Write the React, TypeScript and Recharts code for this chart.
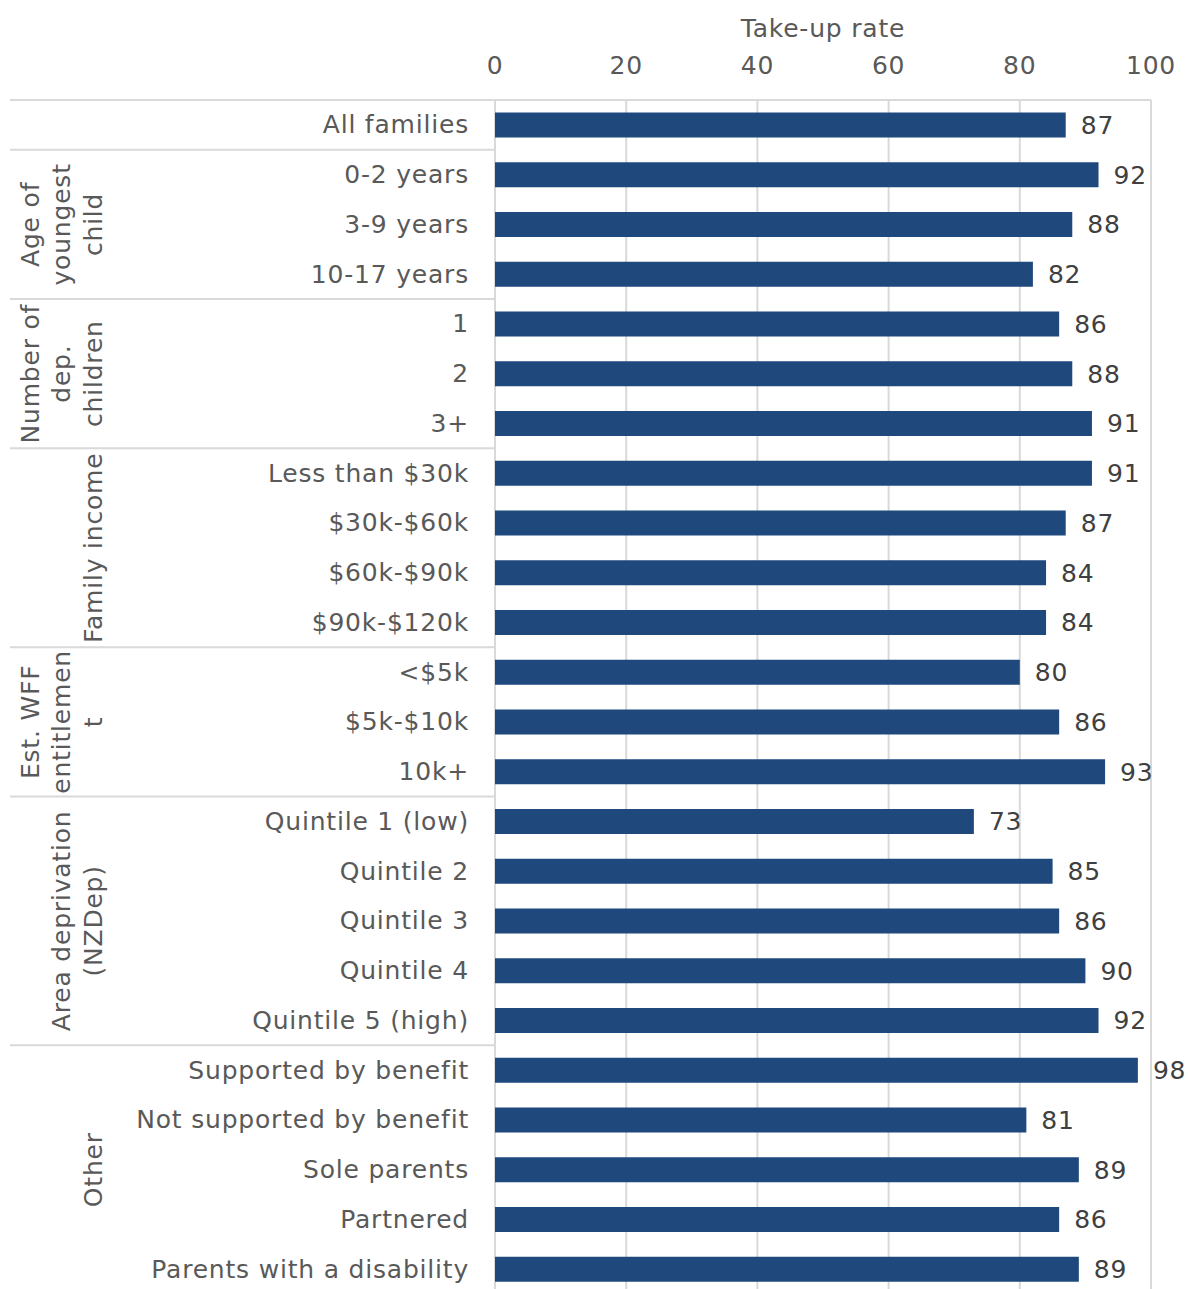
import React from "react";
import {
  BarChart,
  Bar,
  XAxis,
  YAxis,
  CartesianGrid,
  LabelList,
} from "recharts";

// Category labels, top to bottom
const categories = [
  "All families",
  "0-2 years",
  "3-9 years",
  "10-17 years",
  "1",
  "2",
  "3+",
  "Less than $30k",
  "$30k-$60k",
  "$60k-$90k",
  "$90k-$120k",
  "<$5k",
  "$5k-$10k",
  "10k+",
  "Quintile 1 (low)",
  "Quintile 2",
  "Quintile 3",
  "Quintile 4",
  "Quintile 5 (high)",
  "Supported by benefit",
  "Not supported by benefit",
  "Sole parents",
  "Partnered",
  "Parents with a disability",
];

// Take-up rate (%)
const takeUp = [
  87, 92, 88, 82, 86, 88, 91, 91, 87, 84, 84, 80, 86, 93, 73, 85, 86, 90, 92,
  98, 81, 89, 86, 89,
];

// Group headings (line by line) and how many categories each spans
const groupLabels = [
  [],
  ["Age of", "youngest", "child"],
  ["Number of", "dep.", "children"],
  ["Family income"],
  ["Est. WFF", "entitlemen", "t"],
  ["Area deprivation", "(NZDep)"],
  ["Other"],
];
const groupSizes = [1, 3, 3, 4, 3, 5, 5];

const xTicks = [0, 20, 40, 60, 80, 100];

const data = categories.map((name, i) => ({ name, value: takeUp[i] }));

const FONT = "Verdana, 'DejaVu Sans', sans-serif";
const FONT_SIZE = 25;
const SPACING = 0.8;
const TEXT = "#595959";
const GRID = "#d9d9d9";
const BAR = "#1f497d";

const WIDTH = 1188;
const HEIGHT = 1294;
const PLOT_TOP = 100;
const PLOT_LEFT = 495;
const PLOT_RIGHT = 1151;
const BAND = (HEIGHT - PLOT_TOP) / categories.length;

// index of the first category in each group
const groupStarts = groupSizes.map((_, g) =>
  groupSizes.slice(0, g).reduce((a, b) => a + b, 0)
);

const CategoryTick = (props: any) => {
  const { y, payload, index } = props;
  const g = groupStarts.indexOf(index);
  const top = y - BAND / 2;
  return (
    <g>
      <text
        x={469}
        y={y}
        textAnchor="end"
        dominantBaseline="central"
        fill={TEXT}
        fontSize={FONT_SIZE}
        letterSpacing={SPACING}
        fontFamily={FONT}
      >
        {payload.value}
      </text>
      {g >= 0 && (
        <g>
          <line
            x1={10}
            x2={g === 0 ? PLOT_RIGHT : PLOT_LEFT}
            y1={top}
            y2={top}
            stroke={GRID}
            strokeWidth={2}
          />
          {groupLabels[g].map((line, j) => {
            const n = groupLabels[g].length;
            const cx = 93 - (n - 1 - j) * 31.5;
            const cy = top + (groupSizes[g] * BAND) / 2;
            return (
              <text
                key={j}
                x={cx}
                y={cy}
                transform={`rotate(-90, ${cx}, ${cy})`}
                textAnchor="middle"
                dominantBaseline="central"
                fill={TEXT}
                fontSize={FONT_SIZE}
                letterSpacing={SPACING}
                fontFamily={FONT}
              >
                {line}
              </text>
            );
          })}
        </g>
      )}
    </g>
  );
};

const ValueTick = (props: any) => {
  const { x, payload } = props;
  return (
    <text
      x={x}
      y={65}
      textAnchor="middle"
      dominantBaseline="central"
      fill={TEXT}
      fontSize={FONT_SIZE}
      letterSpacing={SPACING}
      fontFamily={FONT}
    >
      {payload.value}
    </text>
  );
};

const AxisTitle = (props: any) => {
  const { viewBox } = props;
  return (
    <text
      x={viewBox.x + viewBox.width / 2}
      y={28}
      textAnchor="middle"
      dominantBaseline="central"
      fill={TEXT}
      fontSize={FONT_SIZE}
      letterSpacing={SPACING}
      fontFamily={FONT}
    >
      Take-up rate
    </text>
  );
};

export default function App() {
  return (
    <div style={{ position: "absolute", left: 0, top: 0, background: "#fff" }}>
      <BarChart
        width={WIDTH}
        height={HEIGHT}
        data={data}
        layout="vertical"
        margin={{ top: 0, right: WIDTH - PLOT_RIGHT, bottom: 0, left: 0 }}
        barCategoryGap="25%"
      >
        <CartesianGrid
          horizontal={false}
          stroke={GRID}
          strokeWidth={2}
          verticalValues={xTicks}
        />
        <XAxis
          type="number"
          orientation="top"
          domain={[0, 100]}
          ticks={xTicks}
          height={PLOT_TOP}
          axisLine={false}
          tickLine={false}
          tick={<ValueTick />}
          label={<AxisTitle />}
        />
        <YAxis
          type="category"
          dataKey="name"
          width={PLOT_LEFT}
          axisLine={false}
          tickLine={false}
          interval={0}
          tick={<CategoryTick />}
        />
        <Bar dataKey="value" fill={BAR} isAnimationActive={false}>
          <LabelList
            dataKey="value"
            position="right"
            offset={15}
            fill="#404040"
            fontSize={FONT_SIZE}
            letterSpacing={SPACING}
            fontFamily={FONT}
          />
        </Bar>
      </BarChart>
    </div>
  );
}
